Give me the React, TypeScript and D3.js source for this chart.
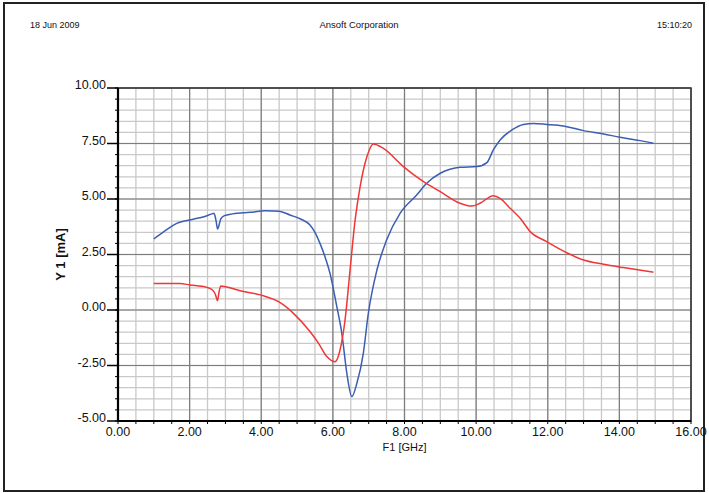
import React from 'react';
import * as d3 from 'd3';

const W = 709;
const H = 493;
const MARGIN = { top: 88, right: 18, bottom: 72, left: 118 };

// series Y1 (blue)
const blueFreq = [1.0, 1.3, 1.64, 2.1, 2.4, 2.62, 2.68, 2.74, 2.78, 2.87, 2.97, 3.2, 3.69, 4.11, 4.5, 4.8, 5.1, 5.36, 5.5, 5.64, 5.8, 5.92, 6.11, 6.25, 6.39, 6.53, 6.67, 6.85, 6.99, 7.23, 7.5, 7.88, 8.34, 8.62, 9.0, 9.27, 9.55, 10.02, 10.3, 10.48, 10.67, 11.0, 11.32, 11.6, 11.97, 12.44, 13.0, 13.56, 14.02, 14.58, 14.95];
const blueVals = [3.2, 3.55, 3.9, 4.09, 4.2, 4.33, 4.36, 4.0, 3.65, 4.1, 4.25, 4.33, 4.4, 4.47, 4.45, 4.28, 4.1, 3.83, 3.5, 3.0, 2.3, 1.65, 0.15, -1.05, -2.85, -3.9, -3.3, -1.95, -0.15, 1.8, 3.15, 4.36, 5.18, 5.71, 6.16, 6.34, 6.43, 6.46, 6.64, 7.21, 7.66, 8.11, 8.36, 8.4, 8.36, 8.29, 8.08, 7.93, 7.78, 7.63, 7.51];

// series Y1 (red)
const redFreq = [1.0, 1.73, 2.0, 2.48, 2.64, 2.72, 2.78, 2.82, 2.87, 3.0, 3.41, 3.97, 4.53, 4.9, 5.36, 5.6, 5.83, 6.06, 6.2, 6.34, 6.48, 6.62, 6.76, 6.95, 7.13, 7.41, 7.97, 8.53, 9.0, 9.55, 9.88, 10.11, 10.48, 10.67, 10.95, 11.23, 11.51, 11.97, 12.53, 13.0, 13.56, 14.11, 14.95];
const redVals = [1.19, 1.19, 1.13, 1.02, 0.9, 0.7, 0.42, 0.8, 1.08, 1.05, 0.87, 0.68, 0.33, -0.15, -0.97, -1.5, -2.1, -2.33, -1.8, -0.45, 1.8, 4.05, 5.55, 6.9, 7.48, 7.28, 6.46, 5.78, 5.33, 4.81, 4.68, 4.81, 5.15, 5.03, 4.58, 4.13, 3.53, 3.08, 2.58, 2.25, 2.06, 1.91, 1.7];

const xTicks = [0, 2, 4, 6, 8, 10, 12, 14, 16];
const yTicks = [-5, -2.5, 0, 2.5, 5, 7.5, 10];

const FONT = '"Liberation Sans", Arial, sans-serif';

const App = () => {
  const boundsWidth = W - MARGIN.left - MARGIN.right;
  const boundsHeight = H - MARGIN.top - MARGIN.bottom;

  const xScale = d3.scaleLinear().domain([0, 16]).range([0, boundsWidth]);
  const yScale = d3.scaleLinear().domain([-5, 10]).range([boundsHeight, 0]);

  const xMinor = d3.range(0, 16.001, 0.5);
  const yMinor = d3.range(-5, 10.001, 0.5);

  const lineGenerator = d3
    .line<[number, number]>()
    .x((d) => xScale(d[0]))
    .y((d) => yScale(d[1]))
    .curve(d3.curveMonotoneX);

  const bluePath = lineGenerator(blueFreq.map((f, i) => [f, blueVals[i]]));
  const redPath = lineGenerator(redFreq.map((f, i) => [f, redVals[i]]));

  return (
    <svg width={W} height={H} style={{ position: 'absolute', left: 0, top: 0 }} fontFamily={FONT}>
      <rect x={0} y={0} width={W} height={H} fill="white" />
      <rect x={4} y={3} width={700} height={488} fill="none" stroke="#222" strokeWidth={2} />

      {/* header */}
      <text x={30} y={28} fontSize={9} fill="#111">18 Jun 2009</text>
      <text x={359} y={28} fontSize={9.5} fill="#111" textAnchor="middle">Ansoft Corporation</text>
      <text x={692} y={28} fontSize={9} fill="#111" textAnchor="end">15:10:20</text>

      <g transform={`translate(${MARGIN.left},${MARGIN.top})`}>
        {/* minor grid */}
        {xMinor.map((v) => (
          <line key={'xm' + v} x1={xScale(v)} x2={xScale(v)} y1={0} y2={boundsHeight} stroke="#c9c9c9" strokeWidth={1.3} />
        ))}
        {yMinor.map((v) => (
          <line key={'ym' + v} x1={0} x2={boundsWidth} y1={yScale(v)} y2={yScale(v)} stroke="#c9c9c9" strokeWidth={1.3} />
        ))}
        {/* major grid */}
        {xTicks.map((v) => (
          <line key={'xM' + v} x1={xScale(v)} x2={xScale(v)} y1={0} y2={boundsHeight} stroke="#7d7d7d" strokeWidth={1.2} />
        ))}
        {yTicks.map((v) => (
          <line key={'yM' + v} x1={0} x2={boundsWidth} y1={yScale(v)} y2={yScale(v)} stroke="#7d7d7d" strokeWidth={1.2} />
        ))}
        <rect x={0} y={0} width={boundsWidth} height={boundsHeight} fill="none" stroke="#333" strokeWidth={1.5} />

        {/* curves */}
        <path d={bluePath ?? ''} fill="none" stroke="#3b5eb3" strokeWidth={1.5} />
        <path d={redPath ?? ''} fill="none" stroke="#f03636" strokeWidth={1.5} />

        {/* axes */}
        <line x1={0} x2={boundsWidth} y1={boundsHeight} y2={boundsHeight} stroke="#000" strokeWidth={2.2} />
        <line x1={0} x2={0} y1={0} y2={boundsHeight} stroke="#000" strokeWidth={2.2} />

        {yMinor.map((v) => (
          <line key={'yt' + v} x1={-3} x2={0} y1={yScale(v)} y2={yScale(v)} stroke="#000" strokeWidth={1} />
        ))}
        {yTicks.map((v) => (
          <g key={'yl' + v} transform={`translate(0,${yScale(v)})`}>
            <line x1={-11} x2={0} stroke="#000" strokeWidth={1.5} />
            <text x={-12} y={0} dy="0.1em" fontSize={12.5} textAnchor="end" fill="#111">
              {v.toFixed(2)}
            </text>
          </g>
        ))}

        {xMinor.map((v) => (
          <line key={'xt' + v} x1={xScale(v)} x2={xScale(v)} y1={boundsHeight} y2={boundsHeight + 3} stroke="#000" strokeWidth={1} />
        ))}
        {xTicks.map((v) => (
          <text key={'xl' + v} x={xScale(v)} y={boundsHeight + 15} fontSize={12.5} textAnchor="middle" fill="#111">
            {v.toFixed(2)}
          </text>
        ))}

        <text x={boundsWidth / 2} y={boundsHeight + 30} fontSize={11} textAnchor="middle" fill="#111">
          F1 [GHz]
        </text>
        <text
          transform={`translate(${62 - MARGIN.left},${boundsHeight / 2}) rotate(-90)`}
          fontSize={13}
          fontWeight="bold"
          textAnchor="middle"
          dominantBaseline="middle"
          fill="#111"
        >
          Y 1  [mA]
        </text>
      </g>
    </svg>
  );
};

export default App;
